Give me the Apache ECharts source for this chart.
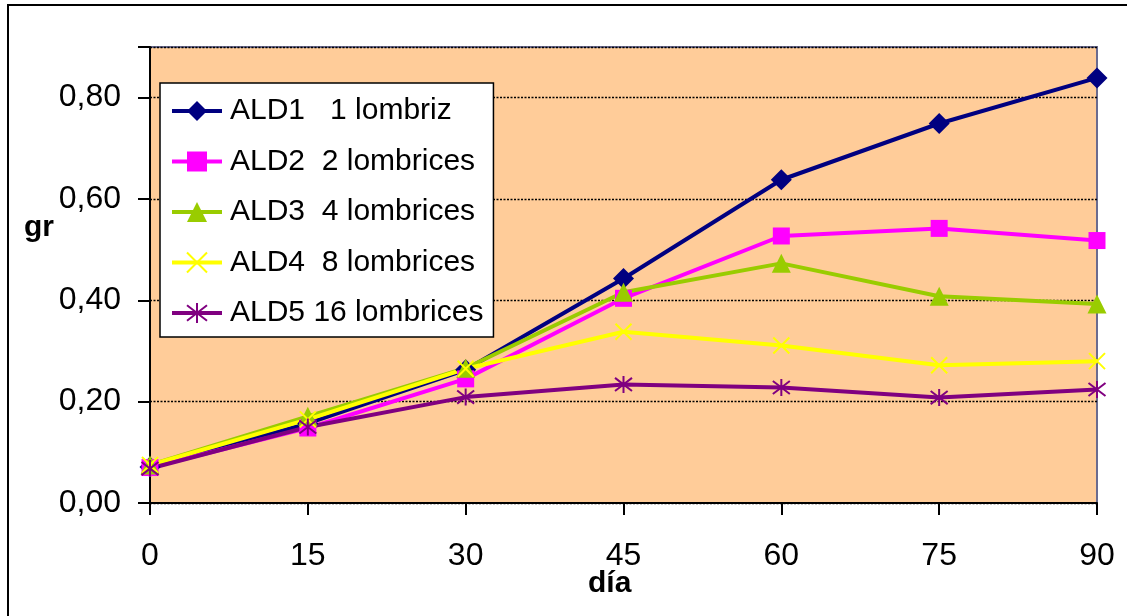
<!DOCTYPE html>
<html>
<head>
<meta charset="utf-8">
<script src="https://cdn.jsdelivr.net/npm/echarts@6/dist/echarts.min.js"></script>
<style>
  html, body { margin: 0; padding: 0; background: #fff; }
  #chart { width: 1127px; height: 616px; }
</style>
</head>
<body>
<div id="chart"></div>
<script>
// Days of measurement
const dias = [0, 15, 30, 45, 60, 75, 90];

// Weight (gr) per treatment
const ald1 = [0.071, 0.157, 0.263, 0.443, 0.638, 0.749, 0.839];
const ald2 = [0.070, 0.148, 0.245, 0.404, 0.527, 0.542, 0.518];
const ald3 = [0.075, 0.171, 0.266, 0.416, 0.473, 0.408, 0.393];
const ald4 = [0.075, 0.165, 0.265, 0.338, 0.311, 0.272, 0.280];
const ald5 = [0.068, 0.150, 0.209, 0.234, 0.228, 0.208, 0.224];

const seriesNames = [
  'ALD1   1 lombriz',
  'ALD2  2 lombrices',
  'ALD3  4 lombrices',
  'ALD4  8 lombrices',
  'ALD5 16 lombrices'
];

const FONT = '"Liberation Sans", Arial, sans-serif';

const xMark = 'path://M0,0 L10,10 M10,0 L0,10';
const starMark = 'path://M0,0 L10,10 M10,0 L0,10 M5,-1.5 L5,11.5';

function pairs(vals) { return dias.map((d, i) => [d, vals[i]]); }

function lineSeries(name, vals, color, symbol, size, stroke) {
  return {
    name: name,
    type: 'line',
    data: pairs(vals),
    symbol: symbol,
    symbolSize: size,
    showAllSymbol: true,
    lineStyle: { color: color, width: 4 },
    itemStyle: stroke
      ? { color: 'rgba(0,0,0,0)', borderColor: color, borderWidth: 2 }
      : { color: color, borderColor: color, borderWidth: 0 },
    emphasis: { disabled: true },
    animation: false
  };
}

const chart = echarts.init(document.getElementById('chart'), null, { renderer: 'canvas' });

chart.setOption({
  backgroundColor: '#ffffff',
  animation: false,
  grid: {
    left: 150, top: 47, right: 30, bottom: 113,
    show: true,
    backgroundColor: '#FFCC99',
    borderColor: '#6B6B8E',
    borderWidth: 2
  },
  legend: {
    left: 160, top: 83,
    orient: 'vertical',
    backgroundColor: '#ffffff',
    borderColor: '#000000',
    borderWidth: 1.5,
    padding: [13, 10, 9, 10],
    itemWidth: 50,
    itemHeight: 25,
    itemGap: 20.5,
    lineStyle: { width: 4 },
    textStyle: { fontFamily: FONT, fontSize: 30, color: '#000', lineHeight: 30, padding: [0, 0, 0, 3] },
    data: seriesNames
  },
  xAxis: {
    type: 'value',
    min: 0, max: 90, interval: 15,
    axisLine: { show: true, onZero: false, lineStyle: { color: '#000', width: 2 } },
    axisTick: { show: true, inside: false, length: 12, lineStyle: { color: '#000', width: 2 } },
    axisLabel: { fontFamily: FONT, fontSize: 32, color: '#000', margin: 37 },
    splitLine: { show: false }
  },
  yAxis: {
    type: 'value',
    min: 0, max: 0.9, interval: 0.2,
    axisLine: { show: true, onZero: false, lineStyle: { color: '#000', width: 2 } },
    axisTick: { show: true, inside: false, length: 12, lineStyle: { color: '#000', width: 2 } },
    axisLabel: {
      fontFamily: FONT, fontSize: 32, color: '#000', margin: 29,
      formatter: v => (Math.abs(v - 0.9) < 1e-6 ? '' : v.toFixed(2).replace('.', ','))
    },
    splitLine: { show: true, lineStyle: { color: '#000', width: 1.3, type: [2, 1.5] } }
  },
  series: [
    lineSeries(seriesNames[0], ald1, '#000080', 'diamond', 21, false),
    lineSeries(seriesNames[1], ald2, '#FF00FF', 'rect', 17, false),
    lineSeries(seriesNames[2], ald3, '#99CC00', 'triangle', 19, false),
    lineSeries(seriesNames[3], ald4, '#FFFF00', xMark, 16, true),
    lineSeries(seriesNames[4], ald5, '#800080', starMark, 17, true)
  ],
  graphic: [
    {
      type: 'rect',
      shape: { x: 8, y: 5, width: 1200, height: 700 },
      style: { fill: 'none', stroke: '#000', lineWidth: 2 },
      silent: true, z: 100
    },
    {
      type: 'text',
      left: 24, top: 213,
      style: { text: 'gr', fontFamily: FONT, fontSize: 30, fontWeight: 'bold', fill: '#000' }
    },
    {
      type: 'text',
      left: 588, top: 569,
      style: { text: 'día', fontFamily: FONT, fontSize: 30, fontWeight: 'bold', fill: '#000' }
    }
  ]
});
</script>
</body>
</html>
